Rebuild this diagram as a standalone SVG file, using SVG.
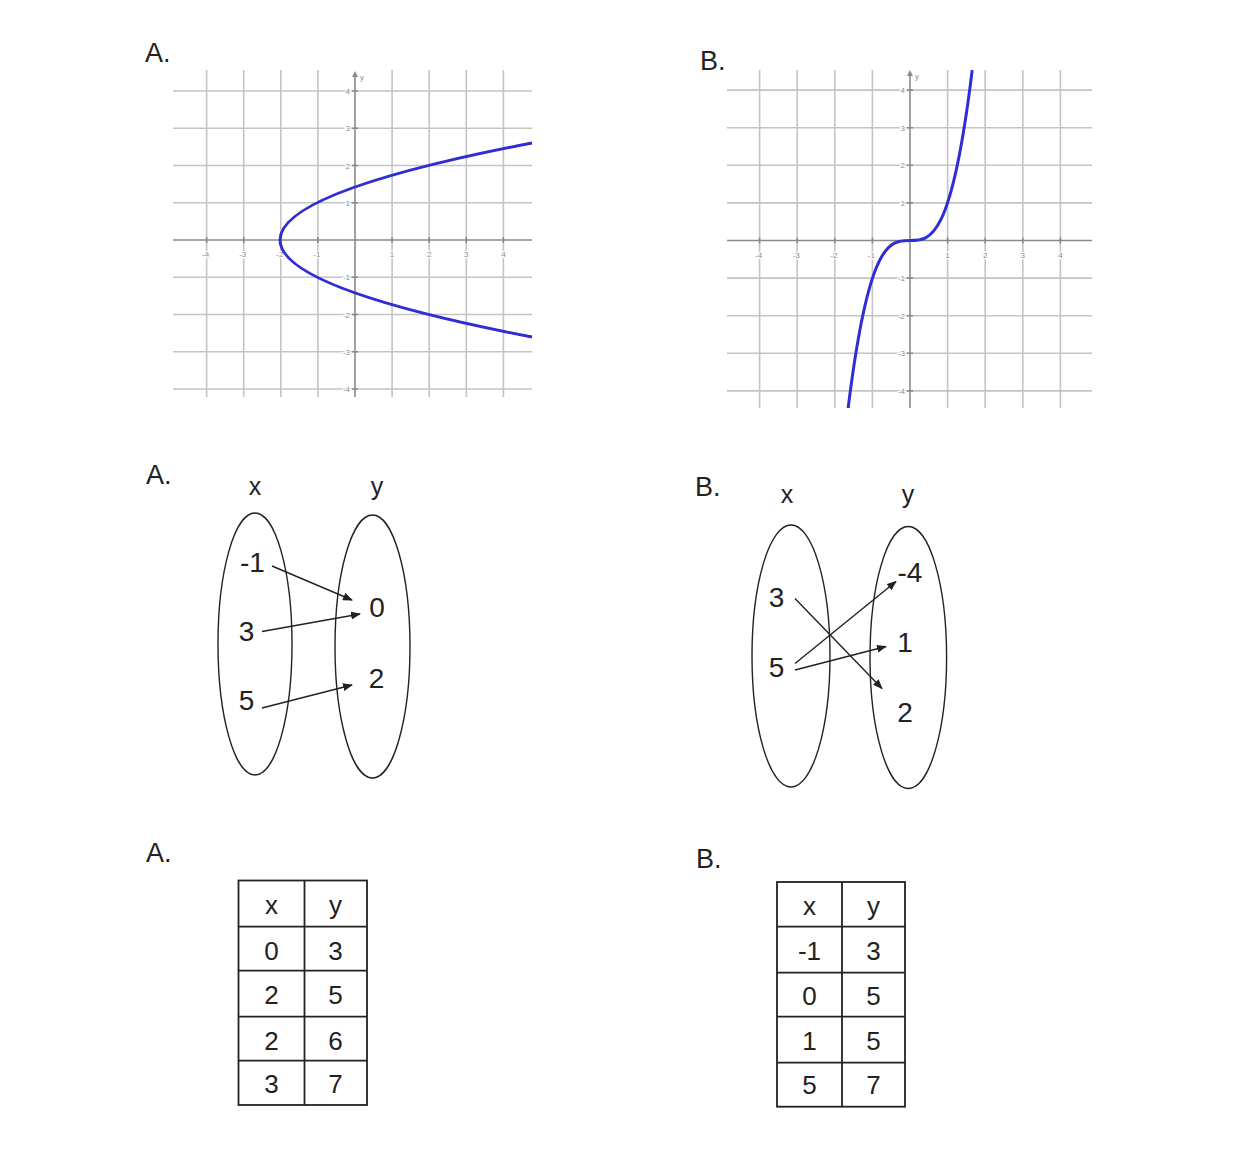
<svg xmlns="http://www.w3.org/2000/svg" width="1242" height="1158" viewBox="0 0 1242 1158">
<style>
.lbl{font-family:"Liberation Sans",Arial,sans-serif;font-size:27px;fill:#222}
.grid{stroke:#c4c4c4;stroke-width:1.6;fill:none}
.axis{stroke:#8a8a8a;stroke-width:1.6;fill:none}
.tick{font-family:"Liberation Sans",Arial,sans-serif;font-size:8px;fill:#8a8a8a;stroke:#fff;stroke-width:2.5;paint-order:stroke}
.curve{stroke:#2e2ed4;stroke-width:3;fill:none}
.ell{stroke:#222;stroke-width:1.4;fill:none}
.arr{stroke:#222;stroke-width:1.4;fill:none;marker-end:url(#ah)}
.num{font-family:"Liberation Sans",Arial,sans-serif;font-size:28px;fill:#222;text-anchor:middle}
.hdr{font-family:"Liberation Sans",Arial,sans-serif;font-size:25px;fill:#222;text-anchor:middle}
.tb{stroke:#222;stroke-width:1.8;fill:none}
.tt{font-family:"Liberation Sans",Arial,sans-serif;font-size:26px;fill:#222;text-anchor:middle}
</style>
<defs>
<marker id="ah" markerWidth="10" markerHeight="8" refX="9" refY="4" orient="auto" markerUnits="userSpaceOnUse">
<path d="M0,0 L10,4 L0,8 Z" fill="#222"/>
</marker>
<marker id="yah" markerWidth="6" markerHeight="6" refX="3" refY="3" orient="auto" markerUnits="userSpaceOnUse">
<path d="M0,0 L6,3 L0,6 Z" fill="#8a8a8a"/>
</marker>
<clipPath id="clipB"><rect x="727" y="70" width="365" height="338"/></clipPath>
</defs>

<!-- Graph A -->
<g id="graphA">
<text class="lbl" x="145" y="62">A.</text>
<path class="grid" d="M173,91H532M173,128.25H532M173,165.5H532M173,202.75H532M173,277.25H532M173,314.5H532M173,351.75H532M173,389H532M206.6,70V397M243.7,70V397M280.8,70V397M317.9,70V397M392.1,70V397M429.2,70V397M466.3,70V397M503.4,70V397"/>
<path class="axis" d="M173,240H532"/>
<path class="axis" d="M355,397V74" marker-end="url(#yah)"/>
<path class="axis" d="M352,91h6M352,128.25h6M352,165.5h6M352,202.75h6M352,277.25h6M352,314.5h6M352,351.75h6M352,389h6M206.6,237v6M243.7,237v6M280.8,237v6M317.9,237v6M392.1,237v6M429.2,237v6M466.3,237v6M503.4,237v6"/>
<text class="tick" x="360" y="80">y</text>
<g class="tick" text-anchor="middle">
<text x="205.6" y="257">-4</text><text x="242.7" y="257">-3</text><text x="279.8" y="257">-2</text><text x="316.9" y="257">-1</text>
<text x="392.1" y="257">1</text><text x="429.2" y="257">2</text><text x="466.3" y="257">3</text><text x="503.4" y="257">4</text>
</g>
<g class="tick" text-anchor="end">
<text x="350" y="94">4</text><text x="350" y="131">3</text><text x="350" y="168.5">2</text><text x="350" y="205.5">1</text>
<text x="350" y="280">-1</text><text x="350" y="317.5">-2</text><text x="350" y="354.5">-3</text><text x="350" y="392">-4</text>
</g>
<path class="curve" d="M532,337 Q28.1,240 532,143"/>
</g>

<!-- Graph B -->
<g id="graphB">
<text class="lbl" x="700" y="70">B.</text>
<path class="grid" d="M727,90.1H1092M727,127.7H1092M727,165.3H1092M727,202.9H1092M727,278.1H1092M727,315.7H1092M727,353.3H1092M727,390.9H1092M759.6,70V408M797.2,70V408M834.8,70V408M872.4,70V408M947.6,70V408M985.2,70V408M1022.8,70V408M1060.4,70V408"/>
<path class="axis" d="M727,240.5H1092"/>
<path class="axis" d="M910,408V73" marker-end="url(#yah)"/>
<path class="axis" d="M907,90.1h6M907,127.7h6M907,165.3h6M907,202.9h6M907,278.1h6M907,315.7h6M907,353.3h6M907,390.9h6M759.6,237.5v6M797.2,237.5v6M834.8,237.5v6M872.4,237.5v6M947.6,237.5v6M985.2,237.5v6M1022.8,237.5v6M1060.4,237.5v6"/>
<text class="tick" x="915" y="79">y</text>
<g class="tick" text-anchor="middle">
<text x="758.6" y="258">-4</text><text x="796.2" y="258">-3</text><text x="833.8" y="258">-2</text><text x="871.4" y="258">-1</text>
<text x="947.6" y="258">1</text><text x="985.2" y="258">2</text><text x="1022.8" y="258">3</text><text x="1060.4" y="258">4</text>
</g>
<g class="tick" text-anchor="end">
<text x="905" y="93">4</text><text x="905" y="130.5">3</text><text x="905" y="168">2</text><text x="905" y="205.5">1</text>
<text x="905" y="281">-1</text><text x="905" y="318.5">-2</text><text x="905" y="356">-3</text><text x="905" y="393.5">-4</text>
</g>
<path class="curve" clip-path="url(#clipB)" d="M847.8,410.9 C889.3,70.1 930.7,410.9 972.2,70.1"/>
</g>

<!-- Mapping A -->
<g id="mapA">
<text class="lbl" x="146" y="484">A.</text>
<text class="hdr" x="255" y="495">x</text>
<text class="hdr" x="377" y="495">y</text>
<ellipse class="ell" cx="255" cy="644" rx="37" ry="131"/>
<ellipse class="ell" cx="372.5" cy="646.5" rx="37.5" ry="131.5"/>
<text class="num" x="252.5" y="572">-1</text>
<text class="num" x="246.5" y="641">3</text>
<text class="num" x="246.5" y="710">5</text>
<text class="num" x="377" y="617">0</text>
<text class="num" x="376.5" y="688">2</text>
</g>

<!-- Mapping B -->
<g id="mapB">
<text class="lbl" x="695" y="496">B.</text>
<text class="hdr" x="787" y="503">x</text>
<text class="hdr" x="908" y="503">y</text>
<ellipse class="ell" cx="791" cy="656" rx="39" ry="131"/>
<ellipse class="ell" cx="908.3" cy="657.5" rx="38.3" ry="131"/>
<text class="num" x="776.5" y="607">3</text>
<text class="num" x="776.5" y="677">5</text>
<text class="num" x="910" y="582">-4</text>
<text class="num" x="905" y="652">1</text>
<text class="num" x="905" y="722">2</text>
</g>

<!-- Connectors -->
<g id="connectors">
<path class="arr" d="M272,566 L352,600"/>
<path class="arr" d="M262,631.5 L360,614"/>
<path class="arr" d="M262,708 L352,685"/>
<path class="arr" d="M795,598.5 L882,688.5"/>
<path class="arr" d="M795,663.5 L896,581.5"/>
<path class="arr" d="M795,670 L886,646.5"/>
</g>

<!-- Table A -->
<g id="tableA">
<text class="lbl" x="146" y="862">A.</text>
<rect class="tb" x="238.5" y="880.5" width="128.5" height="224.5"/>
<path class="tb" d="M304.5,880.5V1105M238.5,926.7H367M238.5,970.7H367M238.5,1016.7H367M238.5,1060.7H367"/>
<text class="tt" x="271.5" y="914">x</text><text class="tt" x="335.5" y="914">y</text>
<text class="tt" x="271.5" y="959.5">0</text><text class="tt" x="335.5" y="959.5">3</text>
<text class="tt" x="271.5" y="1004">2</text><text class="tt" x="335.5" y="1004">5</text>
<text class="tt" x="271.5" y="1049.5">2</text><text class="tt" x="335.5" y="1049.5">6</text>
<text class="tt" x="271.5" y="1093">3</text><text class="tt" x="335.5" y="1093">7</text>
</g>

<!-- Table B -->
<g id="tableB">
<text class="lbl" x="696" y="868">B.</text>
<rect class="tb" x="777" y="882" width="128" height="224.7"/>
<path class="tb" d="M842,882V1106.7M777,926.7H905M777,972.7H905M777,1016.7H905M777,1062.7H905"/>
<text class="tt" x="809.5" y="915">x</text><text class="tt" x="873.5" y="915">y</text>
<text class="tt" x="809.5" y="960">-1</text><text class="tt" x="873.5" y="960">3</text>
<text class="tt" x="809.5" y="1005">0</text><text class="tt" x="873.5" y="1005">5</text>
<text class="tt" x="809.5" y="1050">1</text><text class="tt" x="873.5" y="1050">5</text>
<text class="tt" x="809.5" y="1094">5</text><text class="tt" x="873.5" y="1094">7</text>
</g>
</svg>
